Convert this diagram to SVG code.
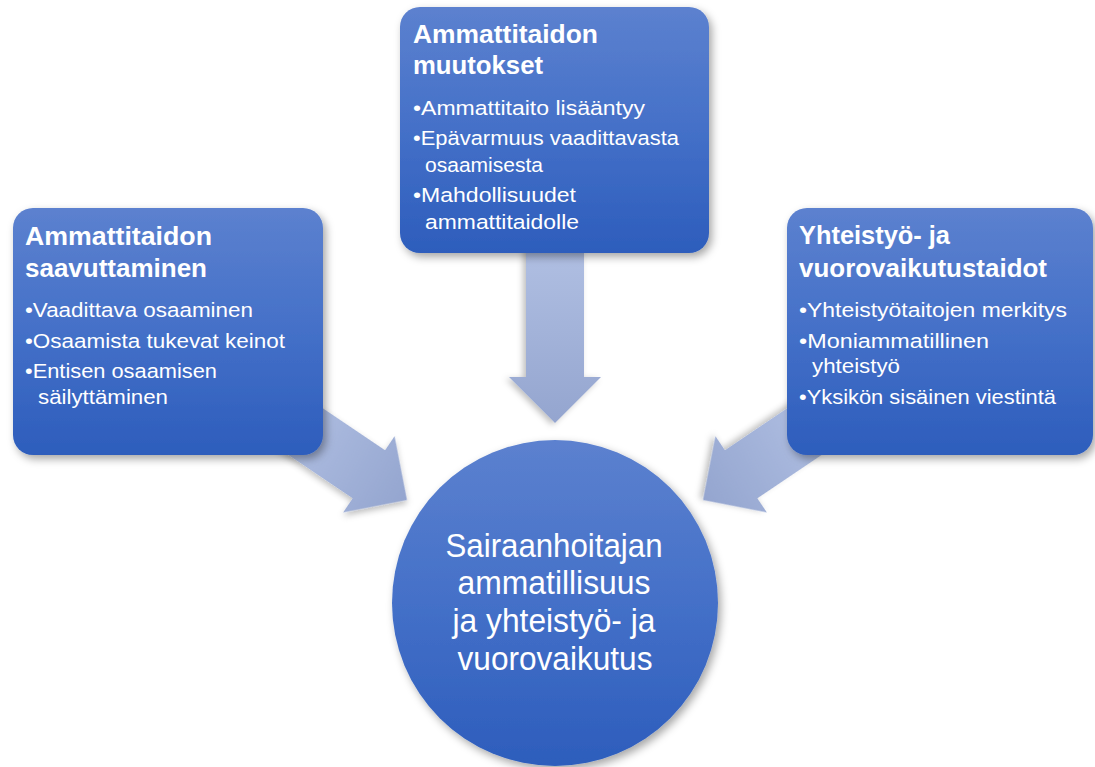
<svg xmlns="http://www.w3.org/2000/svg" width="1095" height="767" viewBox="0 0 1095 767">
<defs>
<linearGradient id="gBox" x1="0" y1="0" x2="0" y2="1">
<stop offset="0" stop-color="#5C81CF"/>
<stop offset="0.5" stop-color="#4470C8"/>
<stop offset="1" stop-color="#2D5DBC"/>
</linearGradient>
<linearGradient id="gArrow" x1="0" y1="0" x2="1" y2="0">
<stop offset="0" stop-color="#B1C0E3"/>
<stop offset="1" stop-color="#94A5CF"/>
</linearGradient>
<filter id="sh" x="-20%" y="-20%" width="140%" height="140%">
<feDropShadow dx="3" dy="4" stdDeviation="4" flood-color="#000" flood-opacity="0.35"/>
</filter>
<filter id="shA" x="-20%" y="-20%" width="140%" height="140%">
<feDropShadow dx="2" dy="3" stdDeviation="3" flood-color="#000" flood-opacity="0.25"/>
</filter>
<path id="arrow" d="M -150,-29 L -46,-29 L -46,-46 L 0,0 L -46,46 L -46,29 L -150,29 Z"/>
<path id="arrowD" d="M -180,-29 L -46,-29 L -46,-46 L 0,0 L -46,46 L -46,29 L -180,29 Z"/>
</defs>
<style>
.box{fill:url(#gBox);filter:url(#sh);}
.arr{fill:url(#gArrow);filter:url(#shA);}
.t{font-family:"Liberation Sans",Arial,sans-serif;fill:#fff;}
.h{font-size:26px;font-weight:bold;}
.b{font-size:20.5px;}
.c{font-size:33px;text-anchor:middle;}
</style>
<g id="connectors">
<use href="#arrow" class="arr" transform="translate(407,500) rotate(34)"/>
<use href="#arrow" class="arr" transform="translate(703,500) rotate(146)"/>
<use href="#arrowD" class="arr" transform="translate(555,423) rotate(90)"/>
</g>
<g id="node-left">
<rect class="box" x="13" y="208" width="310" height="247" rx="20"/>
<text class="t h" x="25" y="245" textLength="187" lengthAdjust="spacingAndGlyphs">Ammattitaidon</text>
<text class="t h" x="25" y="277" textLength="182" lengthAdjust="spacingAndGlyphs">saavuttaminen</text>
<text class="t b" x="25" y="317" textLength="228" lengthAdjust="spacingAndGlyphs">•Vaadittava osaaminen</text>
<text class="t b" x="25" y="348" textLength="260" lengthAdjust="spacingAndGlyphs">•Osaamista tukevat keinot</text>
<text class="t b" x="25" y="378" textLength="192" lengthAdjust="spacingAndGlyphs">•Entisen osaamisen</text>
<text class="t b" x="38" y="404" textLength="130" lengthAdjust="spacingAndGlyphs">säilyttäminen</text>
</g>
<g id="node-top">
<rect class="box" x="400" y="7" width="309" height="246" rx="20"/>
<text class="t h" x="413" y="43" textLength="185" lengthAdjust="spacingAndGlyphs">Ammattitaidon</text>
<text class="t h" x="413" y="74" textLength="130" lengthAdjust="spacingAndGlyphs">muutokset</text>
<text class="t b" x="413" y="115" textLength="232" lengthAdjust="spacingAndGlyphs">•Ammattitaito lisääntyy</text>
<text class="t b" x="413" y="145" textLength="266" lengthAdjust="spacingAndGlyphs">•Epävarmuus vaadittavasta</text>
<text class="t b" x="425" y="172" textLength="118" lengthAdjust="spacingAndGlyphs">osaamisesta</text>
<text class="t b" x="413" y="202" textLength="163" lengthAdjust="spacingAndGlyphs">•Mahdollisuudet</text>
<text class="t b" x="425" y="229" textLength="154" lengthAdjust="spacingAndGlyphs">ammattitaidolle</text>
</g>
<g id="node-right">
<rect class="box" x="787" y="208" width="306" height="247" rx="20"/>
<text class="t h" x="799" y="244" textLength="151" lengthAdjust="spacingAndGlyphs">Yhteistyö- ja</text>
<text class="t h" x="799" y="277" textLength="248" lengthAdjust="spacingAndGlyphs">vuorovaikutustaidot</text>
<text class="t b" x="799" y="317" textLength="268" lengthAdjust="spacingAndGlyphs">•Yhteistyötaitojen merkitys</text>
<text class="t b" x="799" y="348" textLength="190" lengthAdjust="spacingAndGlyphs">•Moniammatillinen</text>
<text class="t b" x="812" y="373" textLength="88" lengthAdjust="spacingAndGlyphs">yhteistyö</text>
<text class="t b" x="799" y="404" textLength="257" lengthAdjust="spacingAndGlyphs">•Yksikön sisäinen viestintä</text>
</g>
<g id="node-center">
<circle class="box" cx="555" cy="603" r="163"/>
<text class="t c" x="554" y="557" textLength="217" lengthAdjust="spacingAndGlyphs">Sairaanhoitajan</text>
<text class="t c" x="554" y="594" textLength="193" lengthAdjust="spacingAndGlyphs">ammatillisuus</text>
<text class="t c" x="554" y="632" textLength="203" lengthAdjust="spacingAndGlyphs">ja yhteistyö- ja</text>
<text class="t c" x="555" y="670" textLength="195" lengthAdjust="spacingAndGlyphs">vuorovaikutus</text>
</g>
</svg>
